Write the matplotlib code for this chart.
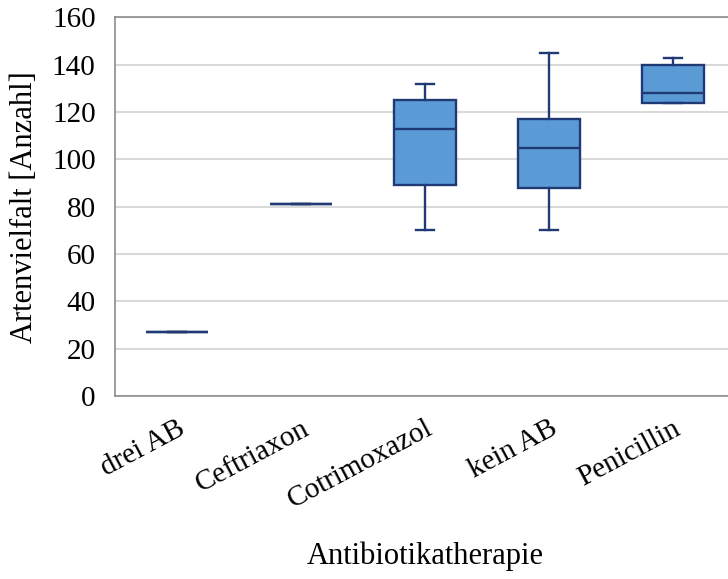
import matplotlib
matplotlib.use("Agg")
import matplotlib.pyplot as plt

plt.rcParams['font.family'] = ['Liberation Serif', 'DejaVu Serif']

# Box statistics per therapy group
therapien = ['drei AB', 'Ceftriaxon', 'Cotrimoxazol', 'kein AB', 'Penicillin']
minimum = [27, 81, 70, 70, 124]
q1 = [27, 81, 89, 88, 124]
median = [27, 81, 113, 105, 128]
q3 = [27, 81, 125, 117, 140]
maximum = [27, 81, 132, 145, 143]

stats = []
for name, lo, a, m, b, hi in zip(therapien, minimum, q1, median, q3, maximum):
    stats.append({'label': name, 'whislo': lo, 'q1': a, 'med': m,
                  'q3': b, 'whishi': hi, 'fliers': []})

fig = plt.figure(figsize=(7.28, 5.79), dpi=100)
ax = fig.add_axes([0.158, 0.316, 0.8516, 0.654])

edge = '#1f3a74'
fill = '#5b9bd5'
ax.bxp(stats, positions=range(len(therapien)), widths=0.5, capwidths=0.145,
       patch_artist=True, showfliers=False,
       boxprops=dict(facecolor=fill, edgecolor=edge, linewidth=1.7),
       medianprops=dict(color=edge, linewidth=1.7),
       whiskerprops=dict(color=edge, linewidth=1.7),
       capprops=dict(color=edge, linewidth=1.7))

ax.set_xlim(-0.5, len(therapien) - 0.5)
ax.set_ylim(0, 160)
ax.set_yticks(range(0, 161, 20))
ax.yaxis.grid(True, color='#d9d9d9', linewidth=1.5)
ax.set_axisbelow(True)

for side in ['left', 'bottom', 'top']:
    ax.spines[side].set_color('#8c8c8c')
    ax.spines[side].set_linewidth(1.2)
ax.spines['right'].set_visible(False)

ax.tick_params(axis='both', length=0, labelsize=21)
ax.tick_params(axis='y', pad=14)
ax.set_xticks(range(len(therapien)))
ax.set_xticklabels(therapien, rotation=28, ha='right', rotation_mode='anchor')
ax.tick_params(axis='x', pad=14)

ax.set_ylabel('Artenvielfalt [Anzahl]', fontsize=22, labelpad=9)
ax.set_xlabel('Antibiotikatherapie', fontsize=22, labelpad=20)

fig.savefig('out.png', dpi=100)
